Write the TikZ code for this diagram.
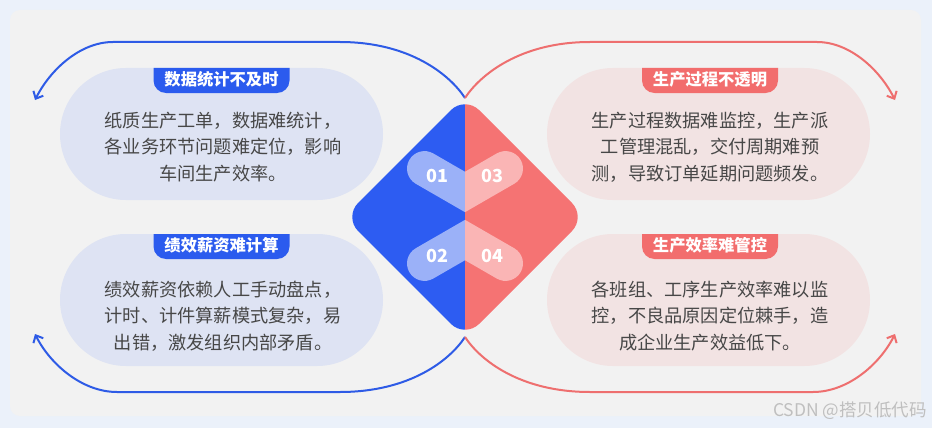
\documentclass[tikz,border=0pt]{standalone}
\usepackage{fontspec}
\setmainfont{Noto Sans CJK SC}
\usetikzlibrary{arrows.meta}
\definecolor{outerbg}{HTML}{EBF1FA}
\definecolor{panel}{HTML}{F2F2F2}
\definecolor{pillL}{HTML}{DEE3F3}
\definecolor{pillR}{HTML}{F2E3E3}
\definecolor{badgeB}{HTML}{2B5BEE}
\definecolor{badgeR}{HTML}{F26D6D}
\definecolor{diaB}{HTML}{2D5CF2}
\definecolor{diaR}{HTML}{F57373}
\definecolor{armB}{HTML}{9BB1F8}
\definecolor{armR}{HTML}{FAB5B5}
\definecolor{lineB}{HTML}{2E5BE6}
\definecolor{lineR}{HTML}{EE6F6F}
\definecolor{txt}{HTML}{474747}
\begin{document}
\begin{tikzpicture}[x=1pt,y=-1pt,
  pill/.style={rounded corners=66pt, minimum width=323pt, minimum height=132pt, inner sep=0pt},
  body/.style={align=center, text=txt, font=\fontsize{18.2}{26.5}\selectfont, inner sep=0pt},
  badgetext/.style={text=white, font=\bfseries\fontsize{16.3}{18}\selectfont, inner sep=0pt},
  num/.style={text=white, font=\bfseries\fontsize{18}{20}\selectfont, inner sep=0pt},
  conn/.style={line width=2pt, -{Straight Barb[length=6pt,width=11pt,line width=2pt]}},
  arm/.style={line width=35pt, line cap=round}]
\useasboundingbox (0,0) rectangle (932,428);
\fill[outerbg] (0,0) rectangle (932,428);
\fill[panel, rounded corners=10pt] (10,10) rectangle (921,416);

% pills
\node[pill, fill=pillL] (p1) at (221.5,134) {};
\node[pill, fill=pillL] (p2) at (221.5,300) {};
\node[pill, fill=pillR] (p3) at (708.5,134) {};
\node[pill, fill=pillR] (p4) at (708.5,300) {};

% badges
\fill[badgeB] (153.5,68) -- (289.5,68) -- (289.5,80.5) arc[start angle=0,end angle=90,radius=12.5] -- (166,93) arc[start angle=90,end angle=180,radius=12.5] -- cycle;
\fill[badgeB] (153.5,234) -- (289.5,234) -- (289.5,246.5) arc[start angle=0,end angle=90,radius=12.5] -- (166,259) arc[start angle=90,end angle=180,radius=12.5] -- cycle;
\fill[badgeR] (642,68) -- (778,68) -- (778,80.5) arc[start angle=0,end angle=90,radius=12.5] -- (654.5,93) arc[start angle=90,end angle=180,radius=12.5] -- cycle;
\fill[badgeR] (642,234) -- (778,234) -- (778,246.5) arc[start angle=0,end angle=90,radius=12.5] -- (654.5,259) arc[start angle=90,end angle=180,radius=12.5] -- cycle;
\node[badgetext] (b1) at (221.5,79.5) {数据统计不及时};
\node[badgetext] (b2) at (221.5,245.5) {绩效薪资难计算};
\node[badgetext] (b3) at (710,79.5) {生产过程不透明};
\node[badgetext] (b4) at (710,245.5) {生产效率难管控};

% body texts
\node[body] (d1) at (223,147) {纸质生产工单，数据难统计，\\各业务环节问题难定位，影响\\车间生产效率。};
\node[body] (d2) at (223,316) {绩效薪资依赖人工手动盘点，\\计时、计件算薪模式复杂，易\\出错，激发组织内部矛盾。};
\node[body] (d3) at (710,147) {生产过程数据难监控，生产派\\工管理混乱，交付周期难预\\测，导致订单延期问题频发。};
\node[body] (d4) at (710,316) {各班组、工序生产效率难以监\\控，不良品原因定位棘手，造\\成企业生产效益低下。};

% diamond
\begin{scope}
\clip (300,90) rectangle (465,345);
\fill[diaB, rounded corners=20pt] (465,96) -- (586,217) -- (465,338) -- (344,217) -- cycle;
\draw[armB, arm] (424.5,168.6) -- (485,203.5);
\draw[armB, arm] (424.5,263.4) -- (485,228.5);
\end{scope}
\begin{scope}
\clip (465,90) rectangle (630,345);
\fill[diaR, rounded corners=20pt] (465,96) -- (586,217) -- (465,338) -- (344,217) -- cycle;
\draw[armR, arm] (505.5,168.6) -- (445,203.5);
\draw[armR, arm] (505.5,263.4) -- (445,228.5);
\end{scope}
\node[num] (n1) at (437,176) {01};
\node[num] (n2) at (437,256) {02};
\node[num] (n3) at (492,176) {03};
\node[num] (n4) at (492,256) {04};

% connectors
\coordinate (topmeet) at (465,98);
\coordinate (botmeet) at (465,337);
\coordinate (tipTL) at (35,100);
\coordinate (tipBL) at (35,334);
\coordinate (tipTR) at (895,100);
\coordinate (tipBR) at (895,334);
\draw[lineB, conn] (topmeet) .. controls (450,75) and (410,42) .. (340,42) -- (113,42) .. controls (80,42) and (50,70) .. (tipTL);
\draw[lineB, conn] (botmeet) .. controls (450,360) and (410,392) .. (340,392) -- (117,392) .. controls (82,392) and (50,364) .. (tipBL);
\draw[lineR, conn] (topmeet) .. controls (480,75) and (520,42) .. (590,42) -- (817,42) .. controls (850,42) and (880,70) .. (tipTR);
\draw[lineR, conn] (botmeet) .. controls (480,360) and (520,392) .. (590,392) -- (813,392) .. controls (848,392) and (880,364) .. (tipBR);

% watermark
\node[anchor=east, text=black!25, font=\fontsize{17.5}{19}\selectfont, inner sep=0pt] (wm) at (927,411) {CSDN @搭贝低代码};
\end{tikzpicture}
\end{document}
